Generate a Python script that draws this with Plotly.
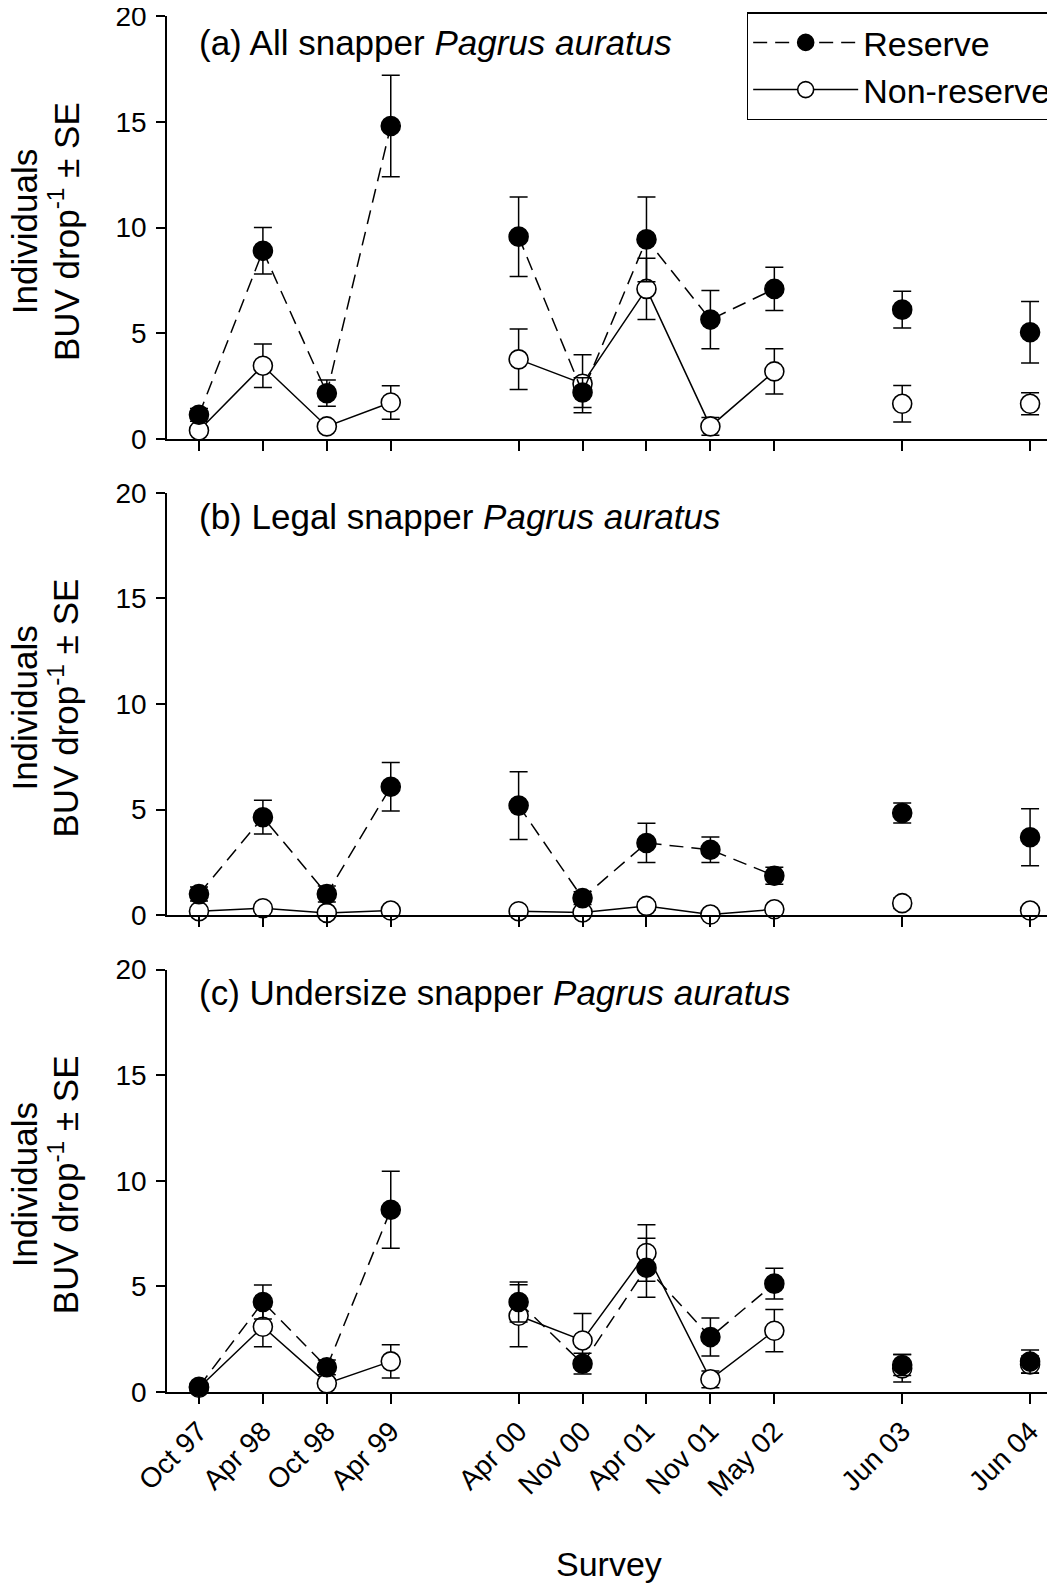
import plotly.graph_objects as go

# ---------------- data ----------------
surveys = ["Oct 97", "Apr 98", "Oct 98", "Apr 99", "Apr 00", "Nov 00",
           "Apr 01", "Nov 01", "May 02", "Jun 03", "Jun 04"]
# half-year survey index (Oct 97 = 0)
survey_pos = [0, 1, 2, 3, 5, 6, 7, 8, 9, 11, 13]
# surveys joined by a line share a group id
line_group = [0, 0, 0, 0, 1, 1, 1, 1, 1, 2, 3]

a_res = [1.15, 8.9, 2.17, 14.8, 9.57, 2.2, 9.44, 5.65, 7.1, 6.12, 5.05]
a_res_se = [0.3, 1.1, 0.62, 2.4, 1.88, 0.7, 2.0, 1.38, 1.02, 0.87, 1.45]
a_non = [0.41, 3.47, 0.6, 1.73, 3.77, 2.62, 7.1, 0.6, 3.2, 1.67, 1.67]
a_non_se = [0.2, 1.03, 0.2, 0.79, 1.43, 1.37, 1.45, 0.42, 1.07, 0.86, 0.52]

b_res = [1.0, 4.64, 1.0, 6.08, 5.19, 0.81, 3.42, 3.1, 1.87, 4.84, 3.69]
b_res_se = [0.33, 0.8, 0.38, 1.15, 1.6, 0.3, 0.93, 0.6, 0.4, 0.47, 1.35]
b_non = [0.19, 0.33, 0.11, 0.22, 0.19, 0.13, 0.44, 0.03, 0.28, 0.57, 0.22]
b_non_se = [0.1, 0.15, 0.08, 0.1, 0.1, 0.08, 0.2, 0.03, 0.12, 0.25, 0.12]

c_res = [0.25, 4.26, 1.17, 8.63, 4.26, 1.34, 5.88, 2.6, 5.13, 1.28, 1.44]
c_res_se = [0.1, 0.8, 0.35, 1.82, 0.95, 0.49, 1.4, 0.9, 0.73, 0.5, 0.55]
c_non = [0.2, 3.09, 0.41, 1.45, 3.61, 2.44, 6.58, 0.6, 2.9, 1.12, 1.3]
c_non_se = [0.1, 0.95, 0.2, 0.79, 1.47, 1.28, 1.34, 0.4, 1.0, 0.65, 0.4]

panel_titles = ["(a) All snapper <i>Pagrus auratus</i>",
                "(b) Legal snapper <i>Pagrus auratus</i>",
                "(c) Undersize snapper <i>Pagrus auratus</i>"]
y_title_lines = ["Individuals", "BUV drop<sup>-1</sup> ± SE"]
y_ticks = [0, 5, 10, 15, 20]

# ---------------- layout geometry ----------------
# the page body adds an 8px offset, so the figure is sized to fit the window
OFF = 8
W, H = 1055 - OFF, 1586 - OFF
ML, MR, MT = 166.5 - OFF, 0, 15.7 - OFF
panel_px = [(15.7, 439), (492.7, 915.3), (969.7, 1392.3)]   # page pixels
panel_px = [(a - OFF, b - OFF) for a, b in panel_px]
MB = H - panel_px[-1][1]
PW, PH = W - ML - MR, H - MT - MB
title_px = [42.5 - OFF, 516 - OFF, 993 - OFF]
ytitle_x = [24 - OFF, 63 - OFF]
FONT = "Liberation Sans, Arial, sans-serif"


def ydom(top, bot):
    return [max(0, 1 - (bot - MT) / PH), min(1, 1 - (top - MT) / PH)]


def py(pix):
    return 1 - (pix - MT) / PH


def px(pix):
    return (pix - ML) / PW


def with_gaps(vals):
    out = []
    for i, v in enumerate(vals):
        if i > 0 and line_group[i] != line_group[i - 1]:
            out.append(None)
        out.append(v)
    return out


xs = with_gaps(survey_pos)

fig = go.Figure()
data = [(a_res, a_res_se, a_non, a_non_se),
        (b_res, b_res_se, b_non, b_non_se),
        (c_res, c_res_se, c_non, c_non_se)]

for p, (r, rse, n, nse) in enumerate(data):
    xa = "x" if p == 0 else f"x{p+1}"
    ya = "y" if p == 0 else f"y{p+1}"
    fig.add_trace(go.Scatter(
        x=xs, y=with_gaps(n), xaxis=xa, yaxis=ya, mode="lines+markers",
        name="Non-reserve", legendrank=2, showlegend=(p == 0), cliponaxis=False,
        connectgaps=False,
        line=dict(color="black", width=1.5),
        marker=dict(symbol="circle", size=19, color="white",
                    line=dict(color="black", width=1.6)),
        error_y=dict(type="data", array=with_gaps(nse), visible=True,
                     color="black", thickness=1.5, width=9)))
    fig.add_trace(go.Scatter(
        x=xs, y=with_gaps(r), xaxis=xa, yaxis=ya, mode="lines+markers",
        name="Reserve", legendrank=1, showlegend=(p == 0), cliponaxis=False,
        connectgaps=False,
        line=dict(color="black", width=1.5, dash="14px,8px"),
        marker=dict(symbol="circle", size=19, color="black",
                    line=dict(color="black", width=1.6)),
        error_y=dict(type="data", array=with_gaps(rse), visible=True,
                     color="black", thickness=1.5, width=9)))

layout = dict(
    width=W, height=H, paper_bgcolor="white", plot_bgcolor="white",
    margin=dict(l=ML, r=MR, t=MT, b=MB, autoexpand=False),
    font=dict(family=FONT, color="black", size=28),
    legend=dict(x=px(746.5 - OFF), y=py(12 - OFF), xanchor="left",
                yanchor="top", bordercolor="black", borderwidth=1.5,
                bgcolor="white", font=dict(size=34, family=FONT),
                itemwidth=105, tracegroupgap=0),
    annotations=[],
)

for p in range(3):
    sfx = "" if p == 0 else str(p + 1)
    top, bot = panel_px[p]
    layout[f"xaxis{sfx}"] = dict(
        domain=[0, 1], anchor=f"y{sfx}", range=[-0.5, 13.39],
        tickmode="array", tickvals=survey_pos, ticktext=surveys,
        showticklabels=(p == 2), tickangle=-45, ticks="outside", ticklen=10,
        tickwidth=1.5, tickcolor="black", showline=True, linecolor="black",
        linewidth=1.5, showgrid=False, zeroline=False,
        ticklabeloverflow="allow", tickfont=dict(size=28, family=FONT))
    layout[f"yaxis{sfx}"] = dict(
        domain=ydom(top, bot), anchor=f"x{sfx}", range=[0, 20],
        tickmode="array", tickvals=y_ticks, ticks="outside", ticklen=9,
        tickwidth=1.5, tickcolor="black", showline=True, linecolor="black",
        linewidth=1.5, showgrid=False, zeroline=False, ticklabelstandoff=4,
        ticklabeloverflow="allow", tickfont=dict(size=28, family=FONT))
    layout["annotations"].append(dict(
        text=panel_titles[p], xref=f"x{sfx} domain", yref="paper",
        x=px(197 - OFF), y=py(title_px[p]),
        xanchor="left", yanchor="middle", showarrow=False,
        font=dict(size=35, family=FONT)))
    for line_text, lx in zip(y_title_lines, ytitle_x):
        layout["annotations"].append(dict(
            text=line_text, xref="paper", yref="paper", x=px(lx),
            y=py((top + bot) / 2 + 4), xanchor="center", yanchor="middle",
            textangle=-90, showarrow=False, font=dict(size=35, family=FONT)))

layout["annotations"].append(dict(
    text="Survey", xref="paper", yref="paper", x=px(609 - OFF),
    y=py(1564 - OFF), xanchor="center", yanchor="middle",
    showarrow=False, font=dict(size=34, family=FONT)))

fig.update_layout(**layout)
fig.write_html("out.html")
